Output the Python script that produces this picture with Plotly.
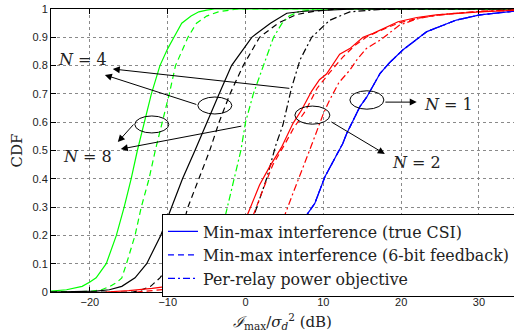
import plotly.graph_objects as go

# ---- Empirical CDF samples (x in dB, y = CDF) ----
# N = 8 (green)
n8_csi_x = [-25, -23, -21, -20, -19.2, -17.9, -16.6, -15.6, -14.7, -13.9, -13.0, -12.1, -11.0, -10.0, -9.2, -8.2, -7.0, -6.0, -5.0, -4.0, 35]
n8_csi_y = [0.003, 0.008, 0.02, 0.035, 0.05, 0.10, 0.20, 0.30, 0.40, 0.50, 0.60, 0.70, 0.80, 0.86, 0.90, 0.95, 0.975, 0.99, 0.996, 1.0, 1.0]
n8_fb_x = [-25, -20, -18.5, -17.4, -16.5, -15.9, -15.3, -14.2, -13.4, -12.4, -11.6, -10.7, -9.8, -9.0, -7.4, -6.3, -5.0, -3.5, -2.0, -1.0, 35]
n8_fb_y = [0.0, 0.002, 0.008, 0.02, 0.035, 0.05, 0.10, 0.20, 0.30, 0.40, 0.50, 0.60, 0.70, 0.80, 0.90, 0.95, 0.975, 0.99, 0.997, 1.0, 1.0]
n8_pr_x = [-10.0, -8.0, -6.0, -4.5, -3.2, -2.5, -1.5, -0.6, 0.0, 1.0, 2.3, 3.0, 3.6, 4.7, 5.6, 6.8, 9.0, 35]
n8_pr_y = [0.0, 0.01, 0.04, 0.10, 0.20, 0.28, 0.40, 0.50, 0.60, 0.70, 0.80, 0.85, 0.90, 0.95, 0.975, 0.99, 1.0, 1.0]

# N = 4 (black)
n4_csi_x = [-25, -19.2, -17.5, -15.9, -14.2, -12.7, -10.9, -9.5, -8.1, -6.5, -5.0, -3.4, -1.8, 0.8, 3.2, 5.3, 7.5, 10.4, 14, 35]
n4_csi_y = [0.0, 0.003, 0.008, 0.02, 0.05, 0.10, 0.20, 0.30, 0.40, 0.50, 0.60, 0.70, 0.80, 0.90, 0.95, 0.985, 0.992, 0.996, 1.0, 1.0]
n4_fb_x = [-25, -14.5, -13.6, -12.2, -11.0, -9.7, -8.4, -7.4, -6.0, -4.6, -3.4, -2.0, -0.3, 1.8, 4.2, 6.5, 9.0, 12.0, 35]
n4_fb_y = [0.0, 0.0, 0.005, 0.02, 0.05, 0.10, 0.20, 0.30, 0.40, 0.50, 0.60, 0.70, 0.80, 0.90, 0.95, 0.98, 0.993, 1.0, 1.0]
n4_pr_x = [-6.0, -4.0, -2.0, -0.5, 0.3, 1.2, 2.7, 3.4, 3.9, 4.8, 5.5, 5.9, 7.0, 8.5, 10.8, 13.4, 17.0, 20.0, 35]
n4_pr_y = [0.0, 0.01, 0.05, 0.15, 0.22, 0.28, 0.40, 0.47, 0.52, 0.59, 0.68, 0.72, 0.82, 0.90, 0.96, 0.99, 0.998, 1.0, 1.0]

# N = 2 (red)
n2_csi_x = [-18, -15, -12, -10, -7, -4, -2, 0.2, 1.8, 3.1, 4.6, 6.1, 7.2, 8.5, 9.5, 10.4, 12.1, 13.4, 15.1, 16.4, 19.6, 22.0, 24.5, 30.1, 35]
n2_csi_y = [0.0, 0.005, 0.013, 0.02, 0.05, 0.12, 0.19, 0.27, 0.378, 0.443, 0.51, 0.596, 0.643, 0.71, 0.75, 0.77, 0.84, 0.86, 0.90, 0.914, 0.955, 0.97, 0.979, 0.99, 0.996]
n2_fb_x = [-14, -10, -6, -3, -1, 1.0, 2.3, 3.5, 5.0, 6.2, 7.7, 9.2, 10.8, 12.5, 14.0, 15.5, 17.0, 19.8, 23.0, 27.0, 31.0, 35]
n2_fb_y = [0.0, 0.01, 0.04, 0.10, 0.18, 0.272, 0.366, 0.449, 0.52, 0.58, 0.64, 0.72, 0.775, 0.83, 0.87, 0.90, 0.92, 0.952, 0.972, 0.985, 0.992, 0.996]
n2_pr_x = [-8, -4, 0, 2.5, 4.0, 5.05, 6.1, 7.8, 8.5, 10.0, 10.8, 12.0, 13.4, 14.3, 15.5, 17.3, 19.8, 22.0, 25.0, 30.0, 35]
n2_pr_y = [0.0, 0.01, 0.05, 0.13, 0.21, 0.272, 0.349, 0.466, 0.52, 0.63, 0.678, 0.74, 0.784, 0.82, 0.86, 0.89, 0.943, 0.965, 0.98, 0.992, 0.997]

# N = 1 (blue)
n1_x = [-6, -3, -1, 1, 3, 5, 6.5, 7.8, 8.9, 10.2, 11.3, 12.5, 13.0, 14.7, 15.6, 17.3, 18.5, 20.2, 23.3, 27.1, 30.1, 35]
n1_y = [0.0, 0.005, 0.01, 0.03, 0.07, 0.14, 0.20, 0.27, 0.313, 0.407, 0.466, 0.525, 0.56, 0.655, 0.69, 0.773, 0.81, 0.855, 0.92, 0.961, 0.979, 0.994]

legend_names = ["Min-max interference (true CSI)",
                "Min-max interference (6-bit feedback)",
                "Per-relay power objective"]

GREEN, BLACK, RED, BLUE = "#00ff00", "#000000", "#ff0000", "#0000ff"
DASH = "6px,4px"
DASHDOT = "7px,3px,2px,3px"
LW = 1.2

fig = go.Figure()

def add(x, y, color, dash, name=None):
    fig.add_trace(go.Scatter(
        x=x, y=y, mode="lines",
        line=dict(color=color, width=LW, dash=dash),
        name=name if name else "", showlegend=name is not None,
        hoverinfo="skip"))

# N = 1: the three schemes coincide, drawn in the three styles
add(n1_x, n1_y, BLUE, "solid", legend_names[0])
add(n1_x, n1_y, BLUE, DASH, legend_names[1])
add(n1_x, n1_y, BLUE, DASHDOT, legend_names[2])

add(n8_csi_x, n8_csi_y, GREEN, "solid")
add(n8_fb_x, n8_fb_y, GREEN, DASH)
add(n8_pr_x, n8_pr_y, GREEN, DASHDOT)

add(n4_csi_x, n4_csi_y, BLACK, "solid")
add(n4_fb_x, n4_fb_y, BLACK, DASH)
add(n4_pr_x, n4_pr_y, BLACK, DASHDOT)

add(n2_csi_x, n2_csi_y, RED, "solid")
add(n2_fb_x, n2_fb_y, RED, DASH)
add(n2_pr_x, n2_pr_y, RED, DASHDOT)

# ---- Group markers: ellipses around curve groups ----
ellipses = [
    (-6.13, -1.76, 0.629, 0.689),   # N = 4
    (-14.23, -9.86, 0.562, 0.622),  # N = 8
    (6.34, 10.84, 0.593, 0.657),    # N = 2
    (13.41, 17.78, 0.646, 0.711),   # N = 1
]
for x0, x1, y0, y1 in ellipses:
    fig.add_shape(type="circle", xref="x", yref="y", x0=x0, x1=x1, y0=y0, y1=y1,
                  line=dict(color="black", width=1))

# ---- Arrows: (head_x, head_y, tail_x, tail_y) ----
arrows = [
    (-18.08, 0.767, -6.13, 0.661),
    (-17.06, 0.788, 5.82, 0.719),
    (-16.41, 0.530, -14.23, 0.597),
    (-16.03, 0.505, -0.35, 0.587),
    (17.9, 0.488, 10.84, 0.604),
    (22.0, 0.671, 17.78, 0.671),
]
for hx, hy, tx, ty in arrows:
    fig.add_annotation(x=hx, y=hy, ax=tx, ay=ty, xref="x", yref="y",
                       axref="x", ayref="y", text="", showarrow=True,
                       arrowhead=2, arrowsize=1.4, arrowwidth=1, arrowcolor="black")

labels = [("<i>N</i> = 4", -20.9, 0.82), ("<i>N</i> = 8", -20.3, 0.48),
          ("<i>N</i> = 1", 26.1, 0.664), ("<i>N</i> = 2", 22.0, 0.459)]
for t, x, y in labels:
    fig.add_annotation(x=x, y=y, xref="x", yref="y", text=t, showarrow=False,
                       font=dict(family="DejaVu Serif", size=16, color="#222"))

tickfont = dict(family="Liberation Sans, Arial", size=11, color="#222")
axis_common = dict(showline=True, linecolor="black", linewidth=1,
                   ticks="inside", ticklen=5, tickcolor="black",
                   showgrid=True, gridcolor="#8a8a8a", gridwidth=1, griddash="dot",
                   zeroline=False, tickfont=tickfont)

fig.update_layout(
    width=514, height=333,
    margin=dict(l=51, r=0, t=9, b=41, autoexpand=False),
    paper_bgcolor="white", plot_bgcolor="white",
    xaxis=dict(range=[-25, 34.5], tickvals=[-20, -10, 0, 10, 20, 30],
               mirror="ticks",
               title=dict(text="<i>ℐ</i><sub>max</sub>/<i>σ</i><sub><i>d</i></sub><sup>2</sup> (dB)",
                          font=dict(family="DejaVu Serif", size=15, color="#222"),
                          standoff=9),
               **axis_common),
    yaxis=dict(range=[0, 1], dtick=0.1, mirror=False,
               title=dict(text="CDF", font=dict(family="DejaVu Serif", size=15, color="#222"),
                          standoff=6),
               **axis_common),
    legend=dict(x=0.2397, y=0.277, xanchor="left", yanchor="top",
                bgcolor="white", bordercolor="black", borderwidth=1,
                font=dict(family="DejaVu Serif", size=15.8, color="#222"),
                tracegroupgap=0, itemwidth=30),
    showlegend=True,
)

fig.write_html("out.html")
